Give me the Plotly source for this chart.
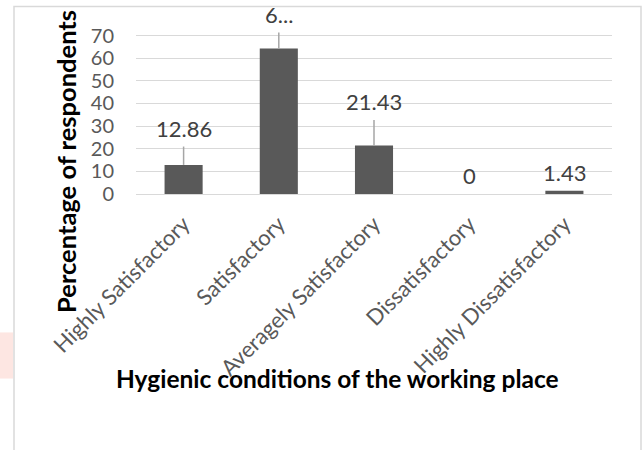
import plotly.graph_objects as go

categories = ["Highly Satisfactory", "Satisfactory", "Averagely Satisfactory",
              "Dissatisfactory", "Highly Dissatisfactory"]
values = [12.86, 64.29, 21.43, 0, 1.43]
errors = [8.1, 7.0, 11.3, 0, 0]
labels = ["12.86", "6...", "21.43", "0", "1.43"]
y_ticks = [0, 10, 20, 30, 40, 50, 60, 70]
y_max = 72

W, H = 644, 450
unit = 158 / 70
L, R, B = 136, 32, 256
T = H - B - y_max * unit
pw, ph = W - L - R, H - T - B

def px(x):
    return (x - L) / pw

def py(y):
    return (H - B - y) / ph

FONT = "Lato"

fig = go.Figure()
fig.add_trace(go.Bar(
    x=categories, y=values,
    marker=dict(color="#595959", line=dict(width=0)),
    error_y=dict(type="data", array=errors, symmetric=False, arrayminus=[0]*5,
                 color="#a6a6a6", thickness=1.5, width=0),
    hoverinfo="skip",
))

annotations = [
    dict(x=c, y=v + e, xref="x", yref="y", text=t, showarrow=False,
         yanchor="bottom", xanchor="center", yshift=3,
         font=dict(family=FONT, size=22, color="#404040"))
    for c, v, e, t in zip(categories, values, errors, labels)
]
annotations += [
    dict(text="<b>Percentage of respondents</b>", xref="paper", yref="paper",
         x=px(66), y=py(162), textangle=-90, showarrow=False,
         font=dict(family=FONT, size=25.5, color="black"), xanchor="center", yanchor="middle"),
    dict(text="<b>Hygienic conditions of the working place</b>", xref="paper", yref="paper",
         x=px(337), y=py(378), showarrow=False,
         font=dict(family=FONT, size=24.5, color="black"), xanchor="center", yanchor="middle"),
]

fig.update_layout(
    width=W, height=H,
    margin=dict(l=L, r=R, t=T, b=B, autoexpand=False),
    paper_bgcolor="white", plot_bgcolor="white",
    showlegend=False, bargap=0.6,
    font=dict(family=FONT, color="#595959"),
    xaxis=dict(tickangle=-45, tickfont=dict(family=FONT, size=22, color="#595959"),
               showgrid=False, showline=False, ticks="", ticklabelstandoff=12),
    yaxis=dict(range=[0, y_max], tickvals=y_ticks, showgrid=True, gridcolor="#d9d9d9",
               gridwidth=1, zeroline=True, zerolinecolor="#d9d9d9", zerolinewidth=1,
               tickfont=dict(family=FONT, size=20, color="#595959"),
               ticks="", ticklabelstandoff=21, showline=False),
    shapes=[
        dict(type="rect", xref="paper", yref="paper",
             x0=px(14), x1=px(641), y0=py(470), y1=py(7),
             line=dict(color="#d9d9d9", width=1.5), fillcolor="rgba(0,0,0,0)", layer="below"),
        dict(type="rect", xref="paper", yref="paper",
             x0=px(0), x1=px(13), y0=py(378), y1=py(332),
             line=dict(width=0), fillcolor="rgba(252,214,206,0.6)", layer="below"),
    ],
    annotations=annotations,
)

fig.write_html("out.html", config={"displayModeBar": False},
               post_script="document.body.style.margin='0';")
